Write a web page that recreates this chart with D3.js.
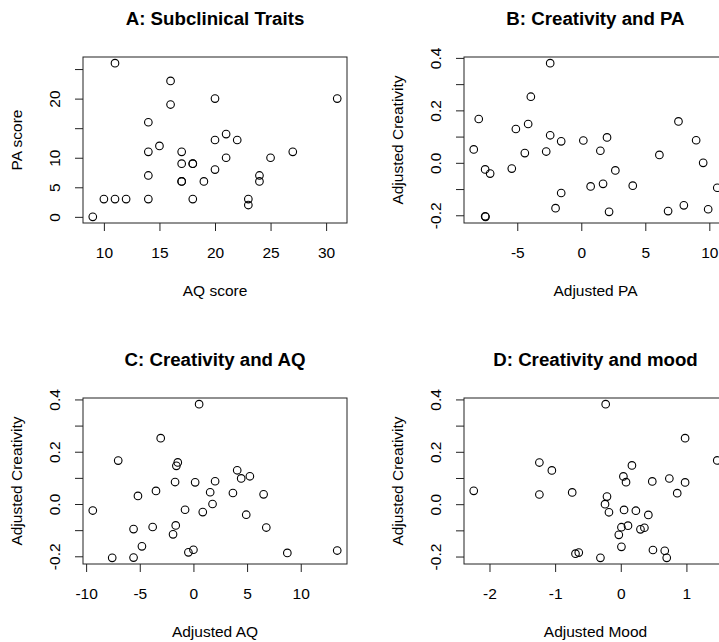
<!DOCTYPE html>
<html>
<head>
<meta charset="utf-8">
<script src="https://cdn.jsdelivr.net/npm/d3@7"></script>
<style>
html,body{margin:0;padding:0;background:#fff;overflow:hidden;}
svg{display:block;font-family:"Liberation Sans",Arial,Helvetica,sans-serif;}
</style>
</head>
<body>
<svg id="chart" width="719" height="642"></svg>
<script>
// Panel A: raw scores
const aqScore = [9,10,11,12,11,14,14,14,14,15,16,16,17,17,17,17,18,18,18,19,20,20,20,21,21,22,23,23,24,24,25,27,31];
const paScore = [0,3,3,3,26,16,11,7,3,12,23,19,11,9,6,6,9,9,3,6,20,13,8,14,10,13,3,2,7,6,10,11,20];

// Panel B: adjusted PA vs adjusted creativity
const adjPA = [-8.40,-8.01,-7.51,-7.12,-7.51,-7.48,-5.43,-5.11,-4.41,-4.15,-3.94,-2.74,-2.43,-2.43,-2.01,-1.57,-1.57,0.16,0.73,1.49,1.70,2.01,2.17,2.66,4.02,6.10,6.78,7.59,8.01,8.97,9.52,9.91,10.62];
const creatB = [0.051,0.167,-0.025,-0.041,-0.204,-0.206,-0.022,0.129,0.037,0.148,0.252,0.043,0.380,0.105,-0.173,0.082,-0.115,0.085,-0.090,0.046,-0.080,0.097,-0.187,-0.029,-0.087,0.030,-0.184,0.158,-0.162,0.086,0.000,-0.177,-0.095];

// Panel C: adjusted AQ vs adjusted creativity
const adjAQ = [-9.38,-7.57,-7.01,-5.58,-5.58,-5.17,-4.80,-3.80,-3.49,-3.05,-1.90,-1.71,-1.65,-1.59,-1.46,-0.78,-0.47,0.00,0.16,0.53,0.87,1.56,1.78,2.02,3.68,4.08,4.45,4.92,5.26,6.54,6.79,8.75,13.40];
const creatC = [-0.025,-0.206,0.166,-0.096,-0.205,0.031,-0.162,-0.088,0.050,0.252,-0.116,0.084,-0.082,0.146,0.159,-0.022,-0.185,-0.175,0.083,0.382,-0.031,0.045,0.000,0.087,0.042,0.129,0.098,-0.041,0.106,0.037,-0.090,-0.187,-0.178];

// Panel D: adjusted mood vs adjusted creativity
const adjMood = [-2.24,-1.24,-1.24,-1.05,-0.74,-0.69,-0.64,-0.31,-0.23,-0.21,-0.24,-0.18,-0.03,0.01,0.01,0.04,0.05,0.08,0.11,0.17,0.23,0.30,0.36,0.42,0.48,0.49,0.67,0.70,0.74,0.86,0.98,0.98,1.47];
const creatD = [0.051,0.159,0.037,0.129,0.045,-0.189,-0.185,-0.205,0.382,0.029,0.000,-0.031,-0.117,-0.088,-0.163,0.106,-0.022,0.084,-0.082,0.148,-0.025,-0.096,-0.090,-0.041,0.087,-0.175,-0.178,-0.205,0.098,0.042,0.252,0.083,0.167];

// Titles, axis labels, ticks
const titles = ["A: Subclinical Traits","B: Creativity and PA","C: Creativity and AQ","D: Creativity and mood"];
const xLabels = ["AQ score","Adjusted PA","Adjusted AQ","Adjusted Mood"];
const yLabels = ["PA score","Adjusted Creativity","Adjusted Creativity","Adjusted Creativity"];
const xTicksA = [10,15,20,25,30];
const yTicksA = [0,5,10,15,20,25];
const yTickLabelsA = ["0","5","10","","20",""];
const xTicksB = [-5,0,5,10];
const xTicksC = [-10,-5,0,5,10];
const xTicksD = [-2,-1,0,1];
const yTicksCreat = [-0.2,-0.1,0.0,0.1,0.2,0.3,0.4];
const yTickLabelsCreat = ["-0.2","","0.0","","0.2","","0.4"];

const svg = d3.select("#chart");
const FS = 15.5;

function rExtent(arr){
  const [a,b] = d3.extent(arr);
  const e = (b-a)*0.04;
  return [a-e,b+e];
}

function panel(cfg){
  const {x0,y0,w,h,xs,ys,title,xLab,yLab,xTicks,yTicks,yTickLabels} = cfg;
  const x = d3.scaleLinear().domain(rExtent(xs)).range([x0,x0+w]);
  const y = d3.scaleLinear().domain(rExtent(ys)).range([y0+h,y0]);
  const g = svg.append("g");

  // title
  g.append("text").attr("x",x0+w/2).attr("y",y0-32)
    .attr("text-anchor","middle").attr("font-weight","bold")
    .attr("font-size",18.7).attr("fill","#000").text(title);

  // x axis (ticks below box)
  const xAxis = d3.axisBottom(x).tickValues(xTicks).tickSize(8).tickSizeOuter(0)
    .tickFormat(d=>String(d));
  const gx = g.append("g").attr("transform",`translate(0,${y0+h})`).call(xAxis);
  gx.select(".domain").remove();
  gx.selectAll(".tick line").attr("stroke","#222").attr("stroke-width",1);
  gx.selectAll(".tick text").attr("font-size",FS).attr("font-family",null).attr("fill","#000")
    .attr("dy",null).attr("y",35);

  // y axis
  const yAxis = d3.axisLeft(y).tickValues(yTicks).tickSize(8).tickSizeOuter(0)
    .tickFormat((d,i)=>yTickLabels[i]);
  const gy = g.append("g").attr("transform",`translate(${x0},0)`).call(yAxis);
  gy.select(".domain").remove();
  gy.selectAll(".tick line").attr("stroke","#222").attr("stroke-width",1);
  gy.selectAll(".tick text").attr("font-size",FS).attr("font-family",null).attr("fill","#000")
    .attr("dy",null).attr("x",null)
    .attr("text-anchor","middle")
    .attr("transform","translate(-23.5,0) rotate(-90)");

  // box
  g.append("rect").attr("x",x0).attr("y",y0).attr("width",w).attr("height",h)
    .attr("fill","none").attr("stroke","#222").attr("stroke-width",1);

  // axis labels
  g.append("text").attr("x",x0+w/2).attr("y",y0+h+73)
    .attr("text-anchor","middle").attr("font-size",FS).attr("fill","#000").text(xLab);
  g.append("text").attr("transform",`translate(${x0-61},${y0+h/2}) rotate(-90)`)
    .attr("text-anchor","middle").attr("font-size",FS).attr("fill","#000").text(yLab);

  // points
  g.append("g").selectAll("circle").data(xs.map((v,i)=>[v,ys[i]])).join("circle")
    .attr("cx",d=>x(d[0])).attr("cy",d=>y(d[1])).attr("r",3.8)
    .attr("fill","none").attr("stroke","#000").attr("stroke-width",1.1);
}

const W = 264, H = 166;
panel({x0:83,y0:57,w:W,h:H,xs:aqScore,ys:paScore,title:titles[0],xLab:xLabels[0],yLab:yLabels[0],
  xTicks:xTicksA,yTicks:yTicksA,yTickLabels:yTickLabelsA});
panel({x0:464,y0:57,w:263,h:H,xs:adjPA,ys:creatB,title:titles[1],xLab:xLabels[1],yLab:yLabels[1],
  xTicks:xTicksB,yTicks:yTicksCreat,yTickLabels:yTickLabelsCreat});
panel({x0:83,y0:398,w:W,h:H,xs:adjAQ,ys:creatC,title:titles[2],xLab:xLabels[2],yLab:yLabels[2],
  xTicks:xTicksC,yTicks:yTicksCreat,yTickLabels:yTickLabelsCreat});
panel({x0:464,y0:398,w:263,h:H,xs:adjMood,ys:creatD,title:titles[3],xLab:xLabels[3],yLab:yLabels[3],
  xTicks:xTicksD,yTicks:yTicksCreat,yTickLabels:yTickLabelsCreat});
</script>
</body>
</html>
